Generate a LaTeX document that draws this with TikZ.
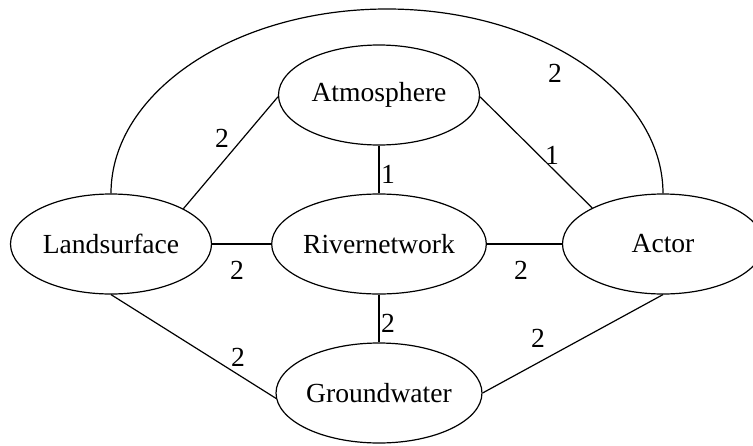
\documentclass[tikz,border=0pt]{standalone}
\usepackage{fontspec}
\setmainfont{Liberation Serif}
\newfontfamily\timesfam{Liberation Serif}
\usetikzlibrary{shapes.geometric}
\tikzset{
  vert/.style={ellipse, draw, line width=1.2pt, minimum width=201pt, minimum height=100pt, inner sep=0pt},
  edgeline/.style={line width=1.2pt},
  elabel/.style={inner sep=0pt},
  every node/.style={font=\timesfam\fontsize{27.6pt}{33pt}\selectfont}
}
\begin{document}
\begin{tikzpicture}[x=1pt,y=-1pt]
\useasboundingbox (0,0) rectangle (753,445);
\node[vert] (atm) at (379,95) {Atmosphere};
\node[vert] (ls) at (111,244) {Landsurface};
\node[vert] (riv) at (379,244) {Rivernetwork};
\node[vert] (act) at (663,244) {Actor};
\node[vert] (gw) at (379,393) {Groundwater};
\coordinate (arctop) at (387,9);
\draw[edgeline] (ls.north) .. controls (111,92) and (235,9) .. (arctop)
  .. controls (539,9) and (663,92) .. (act.north);
\draw[edgeline] (ls.26) -- (atm.181);
\draw[edgeline] (atm.-1) -- (act.153);
\draw[edgeline] (atm.south) -- (riv.north);
\draw[edgeline] (ls.east) -- (riv.west);
\draw[edgeline] (riv.east) -- (act.west);
\draw[edgeline] (riv.south) -- (gw.north);
\draw[edgeline] (ls.south) -- (gw.183);
\draw[edgeline] (act.south) -- (gw.east);
\node[elabel] (l1) at (555,73) {2};
\node[elabel] (l2) at (222,138) {2};
\node[elabel] (l3) at (552,155) {1};
\node[elabel] (l4) at (388,174) {1};
\node[elabel] (l5) at (237,270) {2};
\node[elabel] (l6) at (521,270) {2};
\node[elabel] (l7) at (388,323) {2};
\node[elabel] (l8) at (238,357) {2};
\node[elabel] (l9) at (538,338) {2};
\end{tikzpicture}
\end{document}
